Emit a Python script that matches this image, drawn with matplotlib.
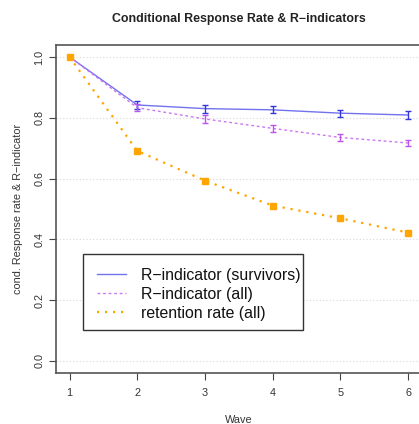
import matplotlib
matplotlib.use("Agg")
import matplotlib.pyplot as plt
from matplotlib.patches import Rectangle

plt.rcParams["font.family"] = ["Liberation Sans", "DejaVu Sans"]

waves = [1, 2, 3, 4, 5, 6]
r_surv = [1.0, 0.842, 0.830, 0.826, 0.815, 0.809]
r_surv_err = [0.0, 0.013, 0.013, 0.012, 0.012, 0.012]
r_all = [1.0, 0.833, 0.796, 0.765, 0.735, 0.717]
r_all_err = [0.0, 0.012, 0.012, 0.011, 0.011, 0.011]
retention = [1.0, 0.691, 0.593, 0.511, 0.469, 0.422]
yticks = [0.0, 0.2, 0.4, 0.6, 0.8, 1.0]

W, H = 419, 424
fig = plt.figure(figsize=(W / 100, H / 100), dpi=100)
ax_l, ax_r, ax_t, ax_b = 56, 421.6, 44.8, 373
ax = fig.add_axes([ax_l / W, 1 - ax_b / H, (ax_r - ax_l) / W, (ax_b - ax_t) / H])

blue = "#7272ee"
purple = "#cc77f0"
orange = "#ffa500"

for y in yticks:
    ax.axhline(y, color="#d8d8d8", lw=0.8, ls=(0, (1, 2)), zorder=0)

ax.plot(waves, r_surv, color=blue, lw=1.0, label="R\u2212indicator (survivors)", zorder=3)
ax.errorbar(waves[1:], r_surv[1:], yerr=r_surv_err[1:], fmt="none", ecolor="#3535dd",
            elinewidth=1.0, capsize=2.2, capthick=1.0, zorder=4)
ax.plot(waves, r_all, color=purple, lw=1.0, ls=(0, (2, 2)), label="R\u2212indicator (all)", zorder=3)
ax.errorbar(waves[1:], r_all[1:], yerr=r_all_err[1:], fmt="none", ecolor="#bb55ee",
            elinewidth=1.0, capsize=2.2, capthick=1.0, zorder=4)
ax.plot(waves, retention, color=orange, lw=1.6, ls=(0, (1, 2.6)), label="retention rate (all)", zorder=3)
ax.plot(waves, retention, color=orange, lw=0, marker="s", ms=3.8, zorder=5)

ax.set_xlim(0.8, 6.2)
ax.set_ylim(-0.04, 1.04)
ax.set_xticks(waves)
ax.set_yticks(yticks)
ax.set_yticklabels([f"{v:.1f}" for v in yticks], rotation=90, va="center")
ax.tick_params(axis="both", direction="out", length=5, width=0.8, color="#444444",
               labelsize=7.8, labelcolor="#333333")
ax.tick_params(axis="x", pad=5.5)
ax.tick_params(axis="y", pad=3.5)
for s in ax.spines.values():
    s.set_color("#555555")
    s.set_linewidth(1.2)

ax.set_xlabel("Wave", fontsize=7.8, color="#333333", labelpad=12.5)
ax.set_ylabel("cond. Response rate & R\u2212indicator", fontsize=7.8, color="#333333", labelpad=8)
fig.text(((ax_l + ax_r) / 2) / W, 1 - 19 / H, "Conditional Response Rate & R\u2212indicators",
         ha="center", va="center", fontsize=8.9, fontweight="bold", color="#222222")

# legend frame drawn separately for exact geometry
rect = Rectangle((83 / W, 1 - 330 / H), (303 - 83) / W, (330 - 254) / H, transform=fig.transFigure,
                 facecolor="white", edgecolor="#333333", lw=1.0, zorder=6)
ax.add_artist(rect)
rect.set_clip_on(False)

leg = ax.legend(loc="upper left", bbox_to_anchor=(97 / W, 1 - 268 / H), bbox_transform=fig.transFigure,
                fontsize=11.4, frameon=False, borderpad=0, borderaxespad=0, handlelength=1.85,
                labelspacing=0.25, handletextpad=0.95)
leg.set_zorder(7)
for t in leg.get_texts():
    t.set_color("#111111")

fig.savefig("out.png", dpi=100)
